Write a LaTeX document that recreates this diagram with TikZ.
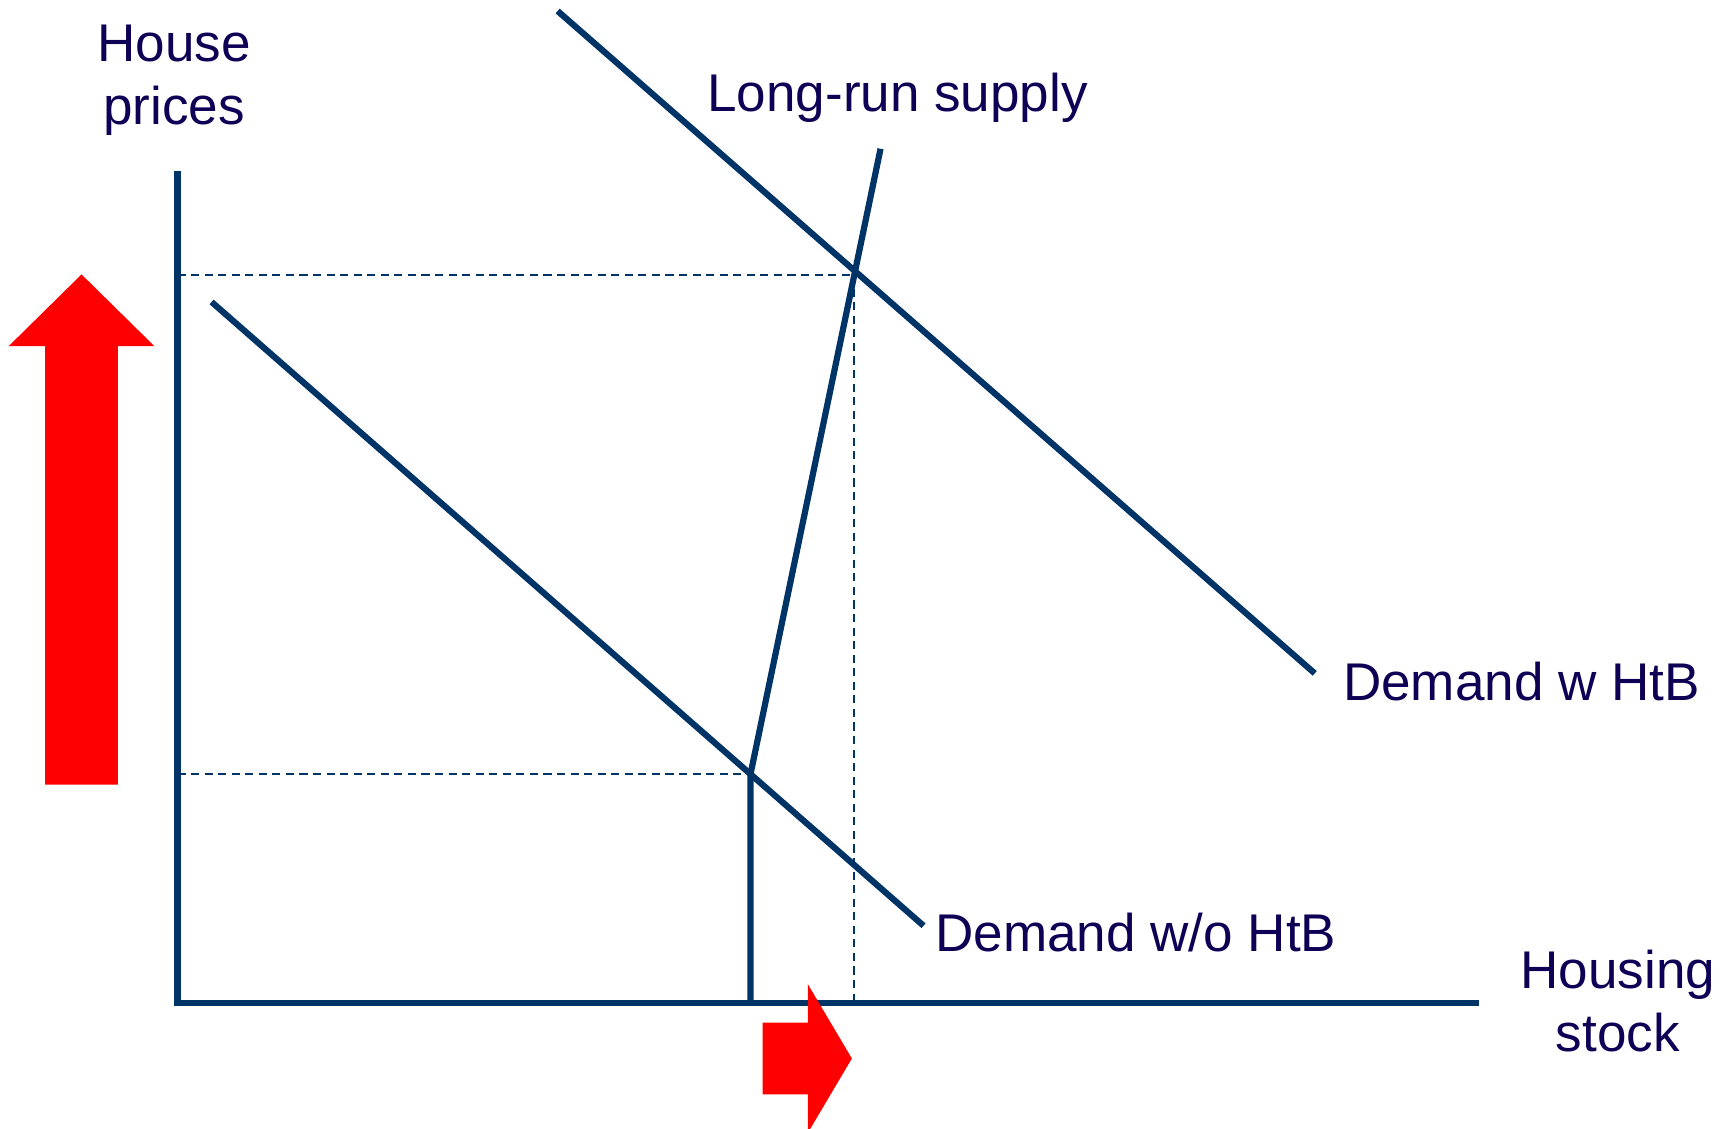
\documentclass[tikz,border=0pt]{standalone}
\usepackage{fontspec}
\setmainfont{Liberation Sans}
\usepackage{xcolor}
\usepackage{tikz}
\usetikzlibrary{intersections,calc}

\definecolor{axisnavy}{RGB}{0,51,102}
\definecolor{labelink}{RGB}{14,0,84}
\definecolor{riseRed}{RGB}{255,0,0}

\begin{document}
\begin{tikzpicture}[
  lbl/.style={text=labelink, inner sep=0pt, font=\fontsize{13.7}{16.2}\selectfont},
  axis/.style={draw=axisnavy, line width=1.7pt},
  curve/.style={draw=axisnavy, line width=1.6pt},
  guide/.style={draw=axisnavy, line width=0.5pt, dash pattern=on 2.1pt off 1.4pt},
  rise/.style={fill=riseRed}
]
\useasboundingbox (0,0) rectangle (15.68,10.24);

% ---------- axes ----------
\coordinate (O) at (1.61,1.14);
\coordinate (ytop) at (1.61,8.69);
\coordinate (xend) at (13.42,1.14);
\draw[axis] (ytop) -- (O) -- (xend);

% ---------- demand curves and long-run supply ----------
\coordinate (dwA) at (5.06,10.14);
\coordinate (dwB) at (11.93,4.13);
\coordinate (dnA) at (1.92,7.50);
\coordinate (dnB) at (8.38,1.84);
\coordinate (supTop) at (7.99,8.89);
\coordinate (supKink) at (6.81,3.215);

\draw[curve, name path=dw] (dwA) -- (dwB);
\draw[curve] (dnA) -- (dnB);
\draw[curve, name path=sup] (supTop) -- (supKink) -- (supKink |- O);

\path[name intersections={of=dw and sup, by=eqhi}];
\coordinate (eqguide) at ($(eqhi)+(-0.01,-0.035)$);

% guide lines to the axes
\draw[guide] (O |- eqguide) -- (eqguide);
\draw[guide] (eqguide) -- (eqguide |- O);
\draw[guide] (O |- supKink) -- (supKink);

% ---------- red shift arrows ----------
\fill[rise] (0.41,3.12) -- (0.41,7.10) -- (0.08,7.10) -- (0.74,7.75)
  -- (1.40,7.10) -- (1.07,7.10) -- (1.07,3.12) -- cycle;
\fill[rise] (6.92,0.31) -- (6.92,0.96) -- (7.33,0.96) -- (7.33,1.31)
  -- (7.73,0.635) -- (7.33,-0.04) -- (7.33,0.31) -- cycle;

% ---------- labels ----------
\node[lbl, align=center] (ylab) at (1.58,9.51) {House\\prices};
\node[lbl, align=center] (xlab) at (14.68,1.16) {Housing\\stock};
\node[lbl, anchor=base] (suplab) at (8.145,9.23) {Long-run supply};
\node[lbl, anchor=base west] (dwlab) at (12.18,3.88) {Demand w HtB};
\node[lbl, anchor=base west] (dnlab) at (8.48,1.61) {Demand w/o HtB};

\end{tikzpicture}
\end{document}
